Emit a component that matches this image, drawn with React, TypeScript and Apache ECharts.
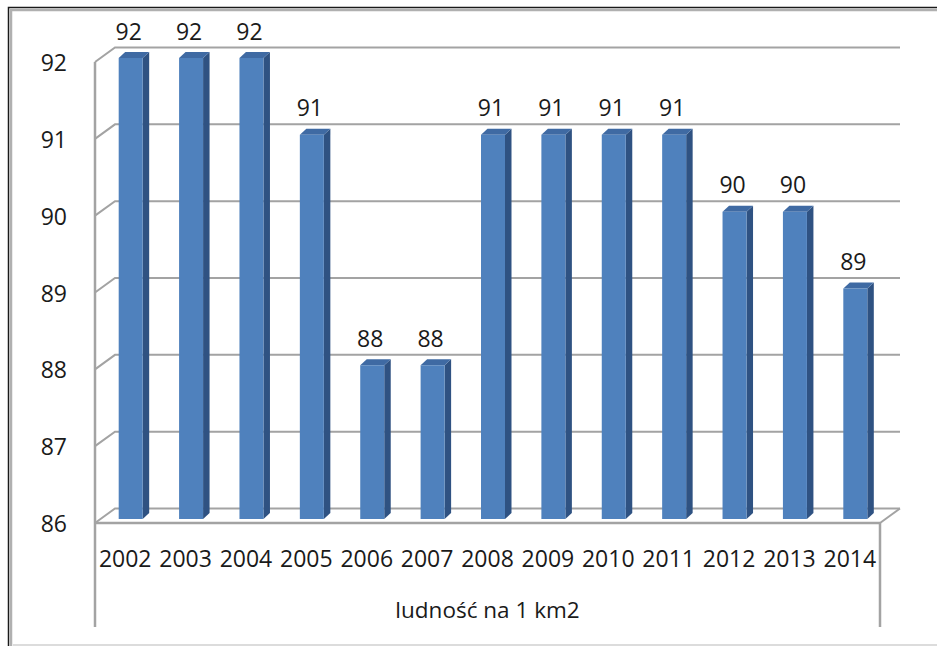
import React, { useEffect, useRef } from "react";
import * as echarts from "echarts";

const years = ["2002", "2003", "2004", "2005", "2006", "2007", "2008", "2009", "2010", "2011", "2012", "2013", "2014"];
const density = [92, 92, 92, 91, 88, 88, 91, 91, 91, 91, 90, 90, 89];
const yTicks = [86, 87, 88, 89, 90, 91, 92];
const axisTitle = "ludność na 1 km2";

const Y_MIN = 86;
const Y_MAX = 92;
const FONT = "'Open Sans', 'Noto Sans', sans-serif";
const FS = 23;
const TEXT = "#1a1a1a";
const GRID_COLOR = "#a3a3a3";
// wall depth offsets
const WDX = 20;
const WDY = -14.5;
// bar placement within the depth
const BOX = 5.5;
const BOY = -4;
const BAR_W = 24;
const BDX = 6.5;
const BDY = -6;
const LABEL_BAND = 104;

export default function App() {
  const ref = useRef<HTMLDivElement>(null);

  useEffect(() => {
    document.body.style.margin = "0";
    const chart = echarts.init(ref.current!, null, { renderer: "svg" });

    const option: any = {
      animation: false,
      backgroundColor: "#ffffff",
      grid: { left: 95, right: 57, top: 62, bottom: 123, containLabel: false },
      xAxis: {
        type: "category",
        data: years,
        boundaryGap: true,
        axisLine: { show: false },
        axisTick: { show: false },
        axisLabel: {
          color: TEXT,
          fontFamily: FONT,
          fontSize: FS,
          margin: 23,
          interval: 0,
          hideOverlap: false,
        },
        name: axisTitle,
        nameLocation: "middle",
        nameGap: 75,
        nameTextStyle: { color: TEXT, fontFamily: FONT, fontSize: 22.5 },
      },
      yAxis: {
        type: "value",
        min: Y_MIN,
        max: Y_MAX,
        interval: 1,
        axisLine: { show: false },
        axisTick: { show: false },
        splitLine: { show: false },
        axisLabel: {
          color: TEXT,
          fontFamily: FONT,
          fontSize: FS,
          margin: 28,
        },
      },
      graphic: [
        {
          type: "polyline",
          silent: true,
          shape: { points: [[8.5, 646], [8.5, 7.5], [937, 7.5]] },
          style: { stroke: "#1a1a1a", lineWidth: 1.5, fill: null },
        },
        {
          type: "polyline",
          silent: true,
          shape: { points: [[11, 646], [11, 10], [937, 10]] },
          style: { stroke: "#b0b0b0", lineWidth: 2.5, fill: null },
        },
        {
          type: "line",
          silent: true,
          shape: { x1: 13, y1: 645, x2: 937, y2: 645 },
          style: { stroke: "#d0d0d0", lineWidth: 1.5 },
        },
      ],
      series: [
        {
          type: "custom",
          z: 1,
          silent: true,
          data: yTicks.map((v) => [0, v]),
          encode: { x: 0, y: 1 },
          renderItem: (params: any, api: any) => {
            const cs = params.coordSys;
            const v = api.value(1);
            const y = api.coord([0, v])[1];
            const x0 = cs.x;
            const x1 = cs.x + cs.width;
            const ls = { stroke: GRID_COLOR, lineWidth: 2, fill: null };
            const children: any[] = [
              {
                type: "polyline",
                shape: { points: [[x0, y], [x0 + WDX, y + WDY], [x1 + WDX, y + WDY]] },
                style: ls,
              },
            ];
            if (v === Y_MIN) {
              const yTop = api.coord([0, Y_MAX])[1];
              children.push(
                { type: "line", shape: { x1: x0, y1: y, x2: x1, y2: y }, style: { ...ls, lineWidth: 2.5 } },
                { type: "line", shape: { x1: x1, y1: y, x2: x1 + WDX, y2: y + WDY }, style: ls },
                { type: "line", shape: { x1: x0, y1: yTop, x2: x0, y2: y + LABEL_BAND }, style: { ...ls, lineWidth: 2.5 } },
                { type: "line", shape: { x1: x1, y1: y, x2: x1, y2: y + LABEL_BAND }, style: { ...ls, lineWidth: 2.5 } }
              );
            }
            return { type: "group", children };
          },
        },
        {
          type: "custom",
          z: 2,
          data: density.map((v, i) => [i, v]),
          encode: { x: 0, y: 1 },
          renderItem: (params: any, api: any) => {
            const i = api.value(0);
            const v = api.value(1);
            const top = api.coord([i, v]);
            const base = api.coord([i, Y_MIN]);
            const cx = top[0] + BOX;
            const l = cx - BAR_W / 2;
            const r = cx + BAR_W / 2;
            const ty = top[1] + BOY;
            const by = base[1] + BOY;
            return {
              type: "group",
              children: [
                {
                  type: "polygon",
                  shape: { points: [[r, ty], [r + BDX, ty + BDY], [r + BDX, by + BDY], [r, by]] },
                  style: { fill: "#2f5282" },
                },
                {
                  type: "polygon",
                  shape: { points: [[l, ty], [l + BDX, ty + BDY], [r + BDX, ty + BDY], [r, ty]] },
                  style: { fill: "#3f6aa3" },
                },
                {
                  type: "rect",
                  shape: { x: l, y: ty, width: BAR_W, height: by - ty },
                  style: { fill: "#4f81bd" },
                },
                {
                  type: "text",
                  style: {
                    text: String(v),
                    x: cx - 2,
                    y: ty + BDY - 10,
                    align: "center",
                    verticalAlign: "bottom",
                    fontFamily: FONT,
                    fontSize: FS,
                    fill: TEXT,
                  },
                },
              ],
            };
          },
        },
      ],
    };

    chart.setOption(option);
    return () => chart.dispose();
  }, []);

  return <div ref={ref} style={{ width: 937, height: 646 }} />;
}
